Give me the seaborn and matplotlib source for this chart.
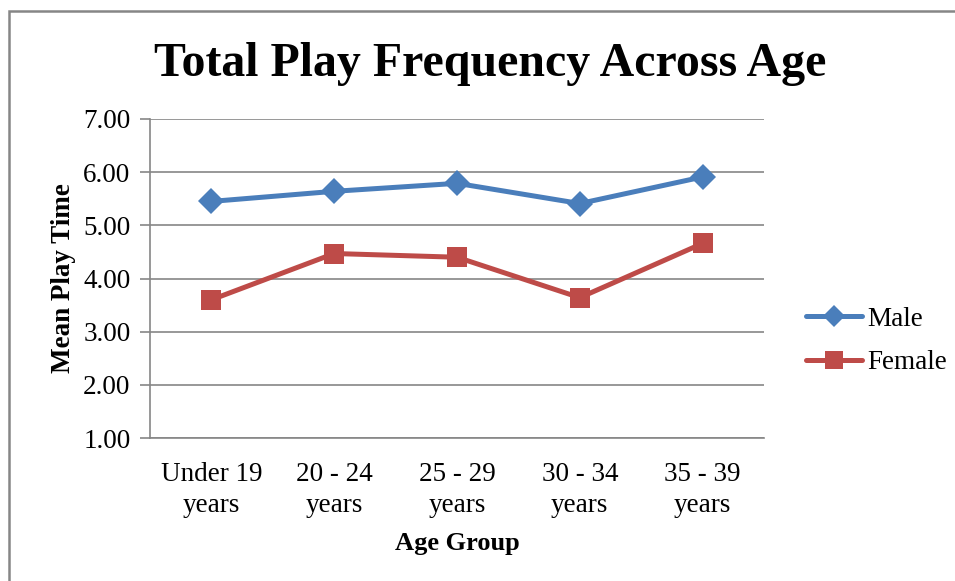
import matplotlib
matplotlib.use("Agg")
import matplotlib.pyplot as plt
from matplotlib.patches import Rectangle
from matplotlib.lines import Line2D
import seaborn as sns
import pandas as pd

# Mean play time per age group, split by gender
age_groups = ["Under 19\nyears", "20 - 24\nyears", "25 - 29\nyears", "30 - 34\nyears", "35 - 39\nyears"]
male_values = [5.45, 5.64, 5.79, 5.41, 5.91]
female_values = [3.60, 4.47, 4.40, 3.64, 4.66]
y_ticks = [1.0, 2.0, 3.0, 4.0, 5.0, 6.0, 7.0]

df = pd.DataFrame({
    "Age Group": age_groups * 2,
    "Mean Play Time": male_values + female_values,
    "Gender": ["Male"] * len(age_groups) + ["Female"] * len(age_groups),
})

sns.set_theme(style="white")
plt.rcParams["font.family"] = ["Liberation Serif", "DejaVu Serif"]
plt.rcParams["text.color"] = "black"
plt.rcParams["axes.labelcolor"] = "black"
plt.rcParams["xtick.labelcolor"] = "black"
plt.rcParams["ytick.labelcolor"] = "black"

W, H = 955, 581
fig = plt.figure(figsize=(W / 100, H / 100), dpi=100)
ax = fig.add_axes([150 / W, 1 - 438 / H, (764 - 150) / W, (438 - 119) / H])

palette = {"Male": "#4A7EBB", "Female": "#BE4B48"}
markers = {"Male": "D", "Female": "s"}
sns.lineplot(data=df, x="Age Group", y="Mean Play Time", hue="Gender",
             style="Gender", markers=markers, dashes=False, palette=palette,
             linewidth=3.6, markersize=13, markeredgewidth=0, ax=ax,
             legend=False, sort=False)
# squares a little larger than diamonds
for line in ax.lines:
    if line.get_marker() == "s":
        line.set_markersize(14)

grid_c = "#868686"
ax.set_ylim(1, 7)
ax.set_xlim(-0.5, len(age_groups) - 0.5)
ax.set_yticks(y_ticks)
ax.set_yticklabels([f"{v:.2f}" for v in y_ticks], fontsize=19.5)
ax.yaxis.grid(True, color=grid_c, linewidth=1.2)
ax.set_axisbelow(True)
ax.set_xticks(range(len(age_groups)))
ax.set_xticklabels(age_groups, fontsize=19.5, linespacing=1.32)
ax.set_xticks([i - 0.5 for i in range(len(age_groups) + 1)], minor=True)
ax.tick_params(axis="x", which="major", length=0, pad=17)
ax.tick_params(axis="x", which="minor", length=8, width=1.2, color=grid_c, direction="out")
ax.tick_params(axis="y", which="major", length=7, width=1.2, color=grid_c, direction="out", pad=7)
ax.tick_params(left=True, bottom=True)
for side in ["top", "right"]:
    ax.spines[side].set_visible(False)
for side in ["left", "bottom"]:
    ax.spines[side].set_color(grid_c)
    ax.spines[side].set_linewidth(1.2)

ax.set_xlabel("Age Group", fontsize=19, fontweight="bold", labelpad=10)
ax.set_ylabel("Mean Play Time", fontsize=19.5, fontweight="bold", labelpad=5)

fig.text(490 / W, 1 - 64 / H, "Total Play Frequency Across Age",
         fontsize=34.5, fontweight="bold", ha="center", va="center")

handles = [
    Line2D([], [], color=palette["Male"], marker="D", linewidth=3.6, markersize=11, markeredgewidth=0),
    Line2D([], [], color=palette["Female"], marker="s", linewidth=3.6, markersize=13, markeredgewidth=0),
]
fig.legend(handles, ["Male", "Female"], loc="center left",
           bbox_to_anchor=(782 / W, 1 - 341 / H), frameon=False, fontsize=19.5,
           handlelength=2.05, handletextpad=0.2, labelspacing=0.68)

fig.patches.append(Rectangle((9 / W, -0.05), 1.1, 1 - 11 / H + 0.05,
                             transform=fig.transFigure, fill=False,
                             edgecolor=grid_c, linewidth=1.8))

fig.savefig("out.png", dpi=100)
